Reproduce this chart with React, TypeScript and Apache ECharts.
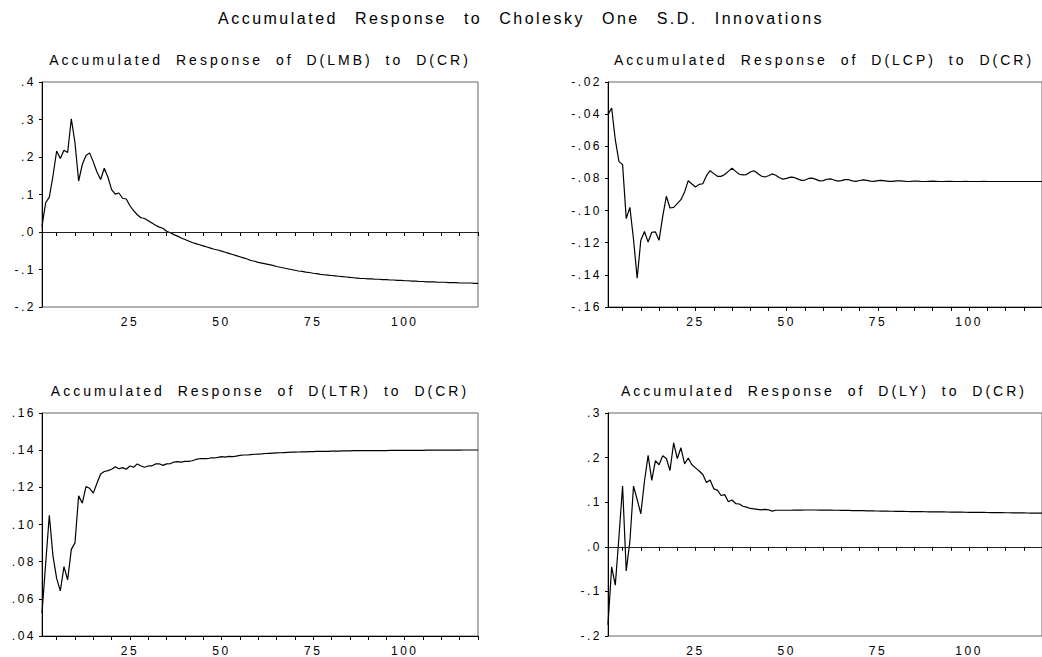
import React, { useEffect, useRef } from "react";
import * as echarts from "echarts";

const periods: string[] = [];
for (let i = 1; i <= 120; i++) periods.push(String(i));

const xLabels = ["25", "50", "75", "100"];

const mainTitle = "Accumulated Response to Cholesky One S.D. Innovations";
const panelTitles = [
  "Accumulated Response of D(LMB) to D(CR)",
  "Accumulated Response of D(LCP) to D(CR)",
  "Accumulated Response of D(LTR) to D(CR)",
  "Accumulated Response of D(LY) to D(CR)",
];

const lmb = [
  0.015, 0.078, 0.093, 0.150, 0.216, 0.196, 0.218, 0.212, 0.302, 0.238,
  0.136, 0.180, 0.204, 0.211, 0.187, 0.160, 0.140, 0.170, 0.146, 0.113,
  0.101, 0.104, 0.090, 0.088, 0.070, 0.057, 0.046, 0.038, 0.036, 0.030,
  0.024, 0.018, 0.013, 0.010, 0.002, -0.002, -0.007, -0.011, -0.016, -0.020,
  -0.024, -0.028, -0.031, -0.034, -0.037, -0.040, -0.043, -0.046, -0.048, -0.051,
  -0.054, -0.057, -0.060, -0.063, -0.066, -0.069, -0.072, -0.076, -0.078, -0.081,
  -0.083, -0.085, -0.087, -0.089, -0.092, -0.094, -0.096, -0.098, -0.100, -0.102,
  -0.104, -0.105, -0.107, -0.108, -0.110, -0.111, -0.113, -0.114, -0.115, -0.116,
  -0.117, -0.118, -0.119, -0.120, -0.121, -0.122, -0.123, -0.124, -0.124, -0.125,
  -0.125, -0.126, -0.126, -0.127, -0.127, -0.128, -0.128, -0.129, -0.129, -0.130,
  -0.130, -0.131, -0.131, -0.132, -0.132, -0.133, -0.133, -0.133, -0.134, -0.134,
  -0.134, -0.135, -0.135, -0.135, -0.136, -0.136, -0.136, -0.136, -0.137, -0.137,
];

const lcp = [
  -0.0403, -0.0362, -0.0559, -0.0694, -0.0714, -0.1050, -0.0980, -0.1180, -0.1420, -0.1185,
  -0.1130, -0.1196, -0.1135, -0.1133, -0.1185, -0.1036, -0.0911, -0.0984, -0.0980, -0.0957,
  -0.0932, -0.0884, -0.0814, -0.0835, -0.0853, -0.0837, -0.0833, -0.0783, -0.0752, -0.0770,
  -0.0787, -0.0787, -0.0776, -0.0756, -0.0737, -0.0756, -0.0774, -0.0778, -0.0776, -0.0760,
  -0.0752, -0.0768, -0.0785, -0.0791, -0.0783, -0.0772, -0.0780, -0.0796, -0.0804, -0.0800,
  -0.0792, -0.0794, -0.0803, -0.0812, -0.0810, -0.0800, -0.0798, -0.0806, -0.0815, -0.0814,
  -0.0805, -0.0803, -0.0810, -0.0817, -0.0814, -0.0807, -0.0808, -0.0815, -0.0818, -0.0813,
  -0.0809, -0.0812, -0.0817, -0.0818, -0.0814, -0.0812, -0.0815, -0.0818, -0.0818, -0.0815,
  -0.0815, -0.0817, -0.0819, -0.0818, -0.0816, -0.0817, -0.0819, -0.0819, -0.0818, -0.0817,
  -0.0818, -0.0819, -0.0819, -0.0818, -0.0818, -0.0819, -0.0819, -0.0819, -0.0818, -0.0819,
  -0.0819, -0.0819, -0.0819, -0.0818, -0.0819, -0.0819, -0.0819, -0.0819, -0.0819, -0.0819,
  -0.0819, -0.0819, -0.0819, -0.0819, -0.0819, -0.0819, -0.0819, -0.0819, -0.0819, -0.0819,
];

const ltr = [
  0.0523, 0.0790, 0.1050, 0.0830, 0.0710, 0.0643, 0.0773, 0.0702, 0.0866, 0.0901,
  0.1154, 0.1115, 0.1204, 0.1195, 0.1169, 0.1222, 0.1272, 0.1285, 0.1290, 0.1297,
  0.1311, 0.1300, 0.1306, 0.1297, 0.1315, 0.1308, 0.1326, 0.1315, 0.1308, 0.1315,
  0.1316, 0.1326, 0.1327, 0.1318, 0.1326, 0.1327, 0.1336, 0.1338, 0.1336, 0.1340,
  0.1340, 0.1343, 0.1350, 0.1354, 0.1354, 0.1354, 0.1358, 0.1358, 0.1361, 0.1365,
  0.1363, 0.1367, 0.1365, 0.1368, 0.1372, 0.1374, 0.1374, 0.1376, 0.1378, 0.1379,
  0.1380, 0.1382, 0.1383, 0.1384, 0.1385, 0.1386, 0.1387, 0.1388, 0.1389, 0.1389,
  0.1390, 0.1391, 0.1391, 0.1392, 0.1392, 0.1393, 0.1393, 0.1394, 0.1394, 0.1395,
  0.1395, 0.1395, 0.1396, 0.1396, 0.1396, 0.1397, 0.1397, 0.1397, 0.1398, 0.1398,
  0.1398, 0.1398, 0.1398, 0.1398, 0.1398, 0.1399, 0.1399, 0.1399, 0.1399, 0.1399,
  0.1399, 0.1399, 0.1399, 0.1399, 0.1399, 0.1400, 0.1400, 0.1400, 0.1400, 0.1400,
  0.1400, 0.1400, 0.1400, 0.1400, 0.1400, 0.1401, 0.1401, 0.1401, 0.1401, 0.1401,
];

const ly = [
  -0.175, -0.045, -0.086, 0.022, 0.136, -0.054, 0.012, 0.136, 0.106, 0.074,
  0.147, 0.205, 0.149, 0.193, 0.184, 0.204, 0.198, 0.171, 0.233, 0.198,
  0.222, 0.186, 0.199, 0.184, 0.177, 0.170, 0.162, 0.144, 0.150, 0.130,
  0.127, 0.115, 0.117, 0.101, 0.105, 0.097, 0.096, 0.091, 0.089, 0.086,
  0.085, 0.084, 0.083, 0.084, 0.083, 0.080, 0.082, 0.082, 0.082, 0.082,
  0.082, 0.0822, 0.0823, 0.0824, 0.0825, 0.0825, 0.0825, 0.0825, 0.0824, 0.0823,
  0.0822, 0.0821, 0.0820, 0.0819, 0.0818, 0.0816, 0.0815, 0.0813, 0.0812, 0.0810,
  0.0809, 0.0807, 0.0806, 0.0804, 0.0803, 0.0801, 0.0800, 0.0798, 0.0797, 0.0795,
  0.0794, 0.0793, 0.0791, 0.0790, 0.0789, 0.0788, 0.0787, 0.0786, 0.0785, 0.0784,
  0.0783, 0.0782, 0.0781, 0.0780, 0.0779, 0.0778, 0.0777, 0.0776, 0.0775, 0.0774,
  0.0773, 0.0772, 0.0771, 0.0770, 0.0769, 0.0768, 0.0767, 0.0766, 0.0765, 0.0764,
  0.0763, 0.0762, 0.0761, 0.0760, 0.0759, 0.0758, 0.0757, 0.0756, 0.0755, 0.0754,
];

const yMins = [-0.2, -0.16, 0.04, -0.2];
const yMaxs = [0.4, -0.02, 0.16, 0.3];
const yIntervals = [0.1, 0.02, 0.02, 0.1];
const yDecimals = [1, 2, 2, 1];

const FONT = '"Liberation Sans", Arial, sans-serif';

export default function App() {
  const ref = useRef<HTMLDivElement>(null);

  useEffect(() => {
    if (!ref.current) return;
    const chart = echarts.init(ref.current, null, { renderer: "svg" });
    const series = [lmb, lcp, ltr, ly];
    const grids = [
      { left: 42, top: 82, width: 436, height: 225 },
      { left: 608, top: 82, width: 436, height: 225 },
      { left: 42, top: 413, width: 436, height: 224 },
      { left: 608, top: 413, width: 436, height: 224 },
    ];
    const titleCenters = [
      [260, 60],
      [824, 60],
      [260, 390.5],
      [824, 390.5],
    ];
    const fmt = (d: number) => (v: number) => {
      const val = Math.abs(v) < 1e-9 ? 0 : v;
      return val.toFixed(d).replace(/^(-?)0\./, "$1.");
    };

    const option: any = {
      animation: false,
      backgroundColor: "#fff",
      textStyle: { fontFamily: FONT },
      grid: grids.map((g) => ({
        ...g,
        show: true,
        borderColor: "#666",
        borderWidth: 1,
        backgroundColor: "transparent",
        containLabel: false,
      })),
      xAxis: grids.map((_, i) => ({
        type: "category",
        gridIndex: i,
        data: periods,
        boundaryGap: false,
        axisLine: { show: true, lineStyle: { color: "#000", width: 1 } },
        axisTick: {
          show: true,
          length: 4,
          inside: false,
          lineStyle: { color: "#000" },
          interval: (idx: number) => (idx + 1) % 5 === 0,
        },
        axisLabel: {
          show: true,
          color: "#000",
          fontSize: 12,
          fontFamily: FONT,
          margin: 9,
          interval: (idx: number, val: string) => xLabels.indexOf(val) >= 0,
        },
        splitLine: { show: false },
      })),
      yAxis: grids.map((_, i) => ({
        type: "value",
        gridIndex: i,
        min: yMins[i],
        max: yMaxs[i],
        interval: yIntervals[i],
        axisLine: { show: true, lineStyle: { color: "#000", width: 1 } },
        axisTick: { show: true, length: 3, inside: false, lineStyle: { color: "#000" } },
        axisLabel: {
          show: true,
          color: "#000",
          fontSize: 12,
          fontFamily: FONT,
          margin: 6,
          formatter: fmt(yDecimals[i]),
        },
        splitLine: { show: false },
      })),
      series: series.map((data, i) => ({
        type: "line",
        xAxisIndex: i,
        yAxisIndex: i,
        data,
        showSymbol: false,
        symbol: "none",
        lineStyle: { color: "#000", width: 1.2 },
        silent: true,
        markLine:
          yMins[i] < 0 && yMaxs[i] > 0
            ? {
                silent: true,
                symbol: "none",
                label: { show: false },
                lineStyle: { color: "#222", width: 1, type: "solid" },
                data: [{ yAxis: 0 }],
              }
            : undefined,
      })),
      graphic: [
        {
          type: "text",
          x: 521,
          y: 18,
          style: {
            text: mainTitle,
            font: `16px ${FONT}`,
            fill: "#000",
            textAlign: "center",
            textVerticalAlign: "middle",
          },
        },
        ...panelTitles.map((t, i) => ({
          type: "text",
          x: titleCenters[i][0],
          y: titleCenters[i][1],
          style: {
            text: t,
            font: `14px ${FONT}`,
            fill: "#000",
            textAlign: "center",
            textVerticalAlign: "middle",
          },
        })),
      ],
    };
    chart.setOption(option);

    const applySpacing = () => {
      const root = ref.current;
      if (!root) return;
      root.querySelectorAll("text").forEach((t) => {
        const s = t.textContent || "";
        const el = t as SVGTextElement;
        if (s.indexOf("Accumulated Response to") === 0) {
          el.style.letterSpacing = "2.5px";
          el.style.wordSpacing = "10px";
        } else if (s.indexOf("Accumulated Response of") === 0) {
          el.style.letterSpacing = "3px";
          el.style.wordSpacing = "6px";
        } else {
          el.style.letterSpacing = "2.5px";
        }
      });
    };
    applySpacing();

    return () => {
      chart.dispose();
    };
  }, []);

  return (
    <div
      ref={ref}
      style={{ position: "absolute", left: 0, top: 0, width: 1042, height: 657, background: "#fff", overflow: "hidden" }}
    />
  );
}
